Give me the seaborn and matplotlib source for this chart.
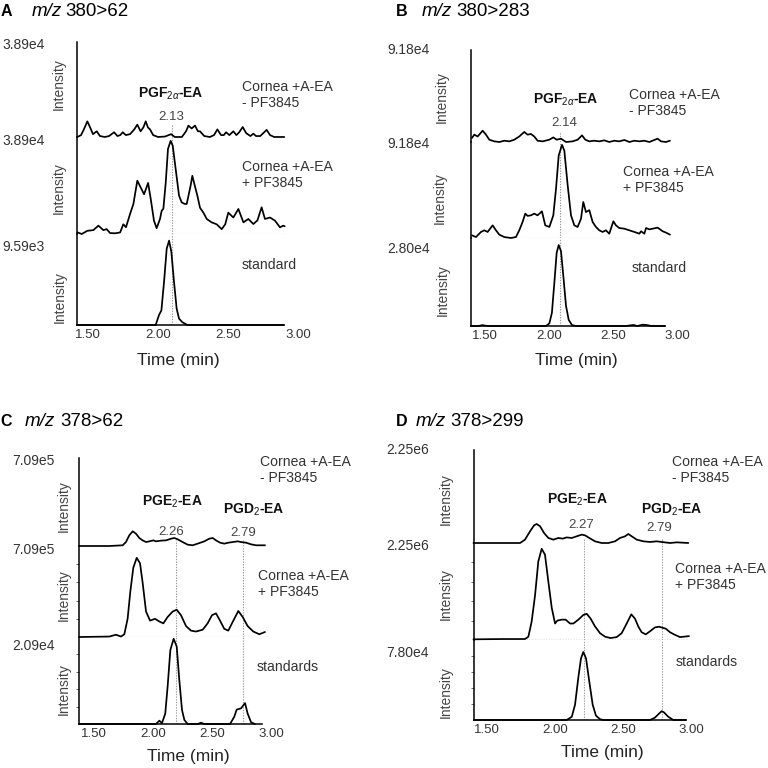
import pandas as pd
import matplotlib.pyplot as plt
import seaborn as sns

# retention time (min) and intensity (% of the trace's full scale)
# panel A  m/z 380>62
a1_time = [1.424,1.45,1.47,1.495,1.515,1.535,1.562,1.585,1.62,1.65,1.686,1.71,1.73,1.748,1.77,1.80,1.83,1.852,1.875,1.895,
           1.912,1.928,1.943,1.965,2.00,2.05,2.093,2.12,2.17,2.20,2.217,2.24,2.264,2.285,2.30,2.33,2.37,2.40,2.424,2.45,
           2.47,2.486,2.51,2.538,2.56,2.58,2.605,2.63,2.66,2.681,2.70,2.73,2.776,2.80,2.83,2.902]
a1_int = [0,2,8,16.5,10,3,6,1,0,1,5,1,2,5,2,3,8,13,6,10,
          16.5,10,8,2,0,0.5,3,0,0,6,12,9,12,6,6,1,0,2,8,2,
          2,5,2,6,2,5,10.5,4,1,3.5,1,1,7.5,2,0,0]
a2_time = [1.424,1.455,1.495,1.538,1.574,1.609,1.633,1.657,1.693,1.729,1.752,1.771,1.80,1.824,1.852,1.876,1.90,1.929,1.948,1.971,
           1.99,2.014,2.026,2.038,2.055,2.071,2.09,2.105,2.126,2.15,2.169,2.19,2.205,2.233,2.245,2.257,2.281,2.30,2.324,2.348,
           2.383,2.419,2.455,2.48,2.502,2.538,2.574,2.61,2.645,2.681,2.71,2.74,2.764,2.80,2.836,2.871,2.895,2.905]
a2_int = [1.7,0,3.3,4,8.6,4,5,1,0.7,1.6,10,7,20.6,31,55,48,41,52.6,36,13.7,
          6,15.5,24,26,53,87.6,96,91,67,39.5,32.6,31,31,50,60,53,39.5,27,22,15.5,
          12,10,5,10,22,17,25.8,12,15.5,10.3,14,27.5,15.5,17,13.7,6.9,8.6,8]
a3_time = [1.421,1.90,1.983,2.007,2.024,2.043,2.062,2.079,2.095,2.114,2.133,2.15,2.174,2.21,2.90]
a3_int = [0,0,0,11,16,47.6,84,92.7,80.6,47.6,18,7,3,0,0]

# panel B  m/z 380>283
b1_time = [1.398,1.417,1.443,1.482,1.508,1.534,1.573,1.612,1.651,1.69,1.729,1.768,1.807,1.833,1.859,1.885,1.911,1.951,2.003,2.034,
           2.06,2.094,2.133,2.185,2.224,2.258,2.284,2.315,2.354,2.393,2.432,2.471,2.51,2.549,2.589,2.628,2.667,2.706,2.745,2.784,
           2.823,2.849,2.875,2.914,2.945]
b1_int = [4.3,8,6,12.3,8,2.5,0.7,0,1.4,0.7,2.5,6,10.9,8,8.7,6,1.4,0.7,2.5,5,
          2.5,3.6,0,0.7,2.5,7.2,2.5,0.7,1.4,0.7,1.8,0,1.4,0.7,2.2,0,1.4,0.7,1.4,0,
          2.2,3.6,0.7,0,1.4]
b2_time = [1.398,1.43,1.469,1.495,1.521,1.56,1.586,1.612,1.651,1.703,1.742,1.768,1.794,1.815,1.833,1.859,1.885,1.911,1.945,1.971,
           2.003,2.034,2.055,2.076,2.102,2.12,2.146,2.172,2.198,2.224,2.25,2.268,2.289,2.315,2.341,2.367,2.393,2.419,2.445,2.471,
           2.503,2.523,2.549,2.589,2.628,2.667,2.706,2.719,2.745,2.758,2.784,2.81,2.849,2.888,2.914,2.945]
b2_int = [2.8,1,6.3,8,6.3,13.2,8,3.5,1,0,1,8,16.7,25.4,23,23.6,25.4,23.6,27.8,13.2,
          11.5,23.6,51.4,86,97,91,55,23.6,13.2,11.5,20,37.5,27,29,16.7,11.5,8,6.3,8,4.5,
          17.4,13.2,10.4,9.7,8,6.3,4.5,7,4.5,10.4,9,9.7,10.8,7,5.6,3.5]
b3_time = [1.39,1.45,1.48,1.52,1.70,1.977,2.003,2.023,2.042,2.06,2.076,2.094,2.112,2.133,2.154,2.18,2.211,2.60,2.66,2.69,
           2.73,2.76,2.80,2.906]
b3_int = [0,0,1,0,0,0,3,15,49,83,92,85,57,23,7,1,0,0,1.2,0,1.5,1.2,0,0]

# panel C  m/z 378>62
c1_time = [1.376,1.489,1.63,1.743,1.771,1.799,1.828,1.856,1.884,1.912,1.941,1.969,2.003,2.025,2.068,2.11,2.153,2.181,2.209,2.251,
           2.294,2.336,2.379,2.435,2.477,2.506,2.534,2.568,2.604,2.641,2.675,2.718,2.746,2.788,2.831,2.873,2.949]
c1_int = [0,0,0,0.8,4.5,12.1,16.7,14,9.1,6.4,4.5,5.3,6.4,5.3,6.1,6.4,8.3,9.1,7.6,4.5,
          1.5,0.8,2.7,5.3,8.3,9.1,6.4,3.8,2.7,3.8,4.5,5.3,4.5,3.8,1.9,0.8,0.8]
c2_time = [1.376,1.63,1.686,1.729,1.757,1.785,1.808,1.833,1.862,1.89,1.912,1.941,1.975,2.017,2.054,2.088,2.124,2.167,2.201,2.237,
           2.28,2.322,2.364,2.421,2.463,2.50,2.534,2.568,2.604,2.638,2.681,2.723,2.76,2.802,2.85,2.901,2.949]
c2_int = [0,0.5,2.5,0.5,3,20,50,76,87,81,60,28,18,20,17,15,22,28,30,24,
          12,7,6,8,15,24,26,18,9,7,18,28.6,22,12,6,3,5.5]
c3_time = [1.373,2.025,2.054,2.076,2.104,2.124,2.147,2.175,2.201,2.223,2.246,2.266,2.294,2.38,2.407,2.435,2.653,2.689,2.709,2.746,
           2.78,2.802,2.831,2.864]
c3_int = [0,0,3.8,1,12,43,85,98,89,50.6,16,4.6,0,0,1.5,0,0,8.4,16.5,18,24,12,2,0]

# panel D  m/z 378>299
d1_time = [1.40,1.62,1.743,1.779,1.816,1.846,1.865,1.89,1.919,1.951,1.988,2.024,2.056,2.086,2.123,2.159,2.196,2.221,2.252,2.294,
           2.343,2.392,2.441,2.478,2.515,2.539,2.564,2.601,2.65,2.699,2.748,2.784,2.846,2.895,2.98]
d1_int = [0,0,0,3.6,12.5,19,20.4,18,10.8,5.4,3.6,5.4,4.7,6,5.4,7.2,9,8.2,5.4,1.8,
          0,0,1.8,5.4,7.2,9.7,7.2,3.6,1.8,1.1,1.8,1.1,0,0.7,0]
d2_time = [1.40,1.62,1.779,1.804,1.828,1.853,1.877,1.902,1.926,1.951,1.976,2.0,2.017,2.05,2.078,2.11,2.135,2.172,2.208,2.233,
           2.262,2.294,2.331,2.368,2.409,2.453,2.49,2.527,2.561,2.588,2.613,2.637,2.667,2.699,2.735,2.765,2.814,2.846,2.875,2.919,
           2.985]
d2_int = [0.7,1,1,3.4,19,46,81,94,88,60,33,17,20,21,21,17,17,21,25.8,27,
          22,14,7,3.4,2,3,7,17,26.5,22,13.7,8,5.8,9,13,13.7,11.7,8,5.8,3,
          4]
d3_time = [1.404,2.086,2.123,2.147,2.172,2.191,2.208,2.228,2.252,2.277,2.301,2.331,2.355,2.699,2.735,2.767,2.784,2.801,2.833,2.87,
           2.963]
d3_int = [0,0,4,19,54,77,85,77,48,19,5.4,1,0,0,3,8.3,11,9.6,4,0,0]

# retention time markers
a_marks = [2.10]
b_marks = [2.088]
c_marks = [2.195, 2.763]
d_marks = [2.213, 2.787]

x_ticks = [1.5, 2.0, 2.5, 3.0]
x_ticklabels = ['1.50', '2.00', '2.50', '3.00']

sns.set_style("white")
plt.rcParams['font.family'] = ['Liberation Sans', 'DejaVu Sans']
plt.rcParams['mathtext.fontset'] = 'custom'
plt.rcParams['mathtext.rm'] = 'Liberation Sans'
plt.rcParams['mathtext.it'] = 'Liberation Sans:italic'
plt.rcParams['mathtext.bf'] = 'Liberation Sans:bold'

W = 768.0
def fx(x):
    return x / W
def fy(y):
    return 1 - y / W

fig = plt.figure(figsize=(7.68, 7.68), dpi=100)
TXT = '#333333'


def draw_panel(left, right, t_left, rows, spine_end, base_end, traces, marks, mark_top, base_style, small_ticks):
    for i, ((top, bot), (t, v)) in enumerate(zip(rows, traces)):
        ax = fig.add_axes([fx(left), fy(bot), (right - left) / W, (bot - top) / W])
        df = pd.DataFrame({'Time': t, 'Intensity': v})
        sns.lineplot(data=df, x='Time', y='Intensity', ax=ax, color='black', lw=1.25, clip_on=False, zorder=3)
        ax.set_xlim(t_left, 3.0)
        ax.set_ylim(0, 100)
        ax.set_xlabel('')
        ax.set_ylabel('')
        ax.patch.set_alpha(0)
        for s in ['top', 'right']:
            ax.spines[s].set_visible(False)
        ax.spines['left'].set_linewidth(1.1)
        ax.spines['left'].set_color('black')
        for m in marks:
            ax.axvline(m, ymin=0, ymax=(mark_top if i == 0 else 1), color='#9a9a9a', ls=(0, (1.2, 1.2)), lw=0.8, zorder=1)
        if i == 1:
            ax.axhline(0, xmin=0, xmax=(base_end - t_left) / (3.0 - t_left), **base_style)
        if small_ticks and i > 0:
            ax.set_yticks([20, 40, 60, 80])
            ax.tick_params(axis='y', left=True, length=2.5, width=0.6, direction='out', labelleft=False, color='#555555')
        else:
            ax.set_yticks([])
        if i == 2:
            ax.spines['bottom'].set_visible(True)
            ax.spines['bottom'].set_linewidth(1.1)
            ax.spines['bottom'].set_color('black')
            ax.spines['bottom'].set_bounds(t_left, spine_end)
            ax.set_xticks(x_ticks)
            ax.set_xticklabels(x_ticklabels)
            ax.tick_params(axis='x', length=0, pad=3, labelsize=9.5, labelcolor=TXT)
        else:
            ax.spines['bottom'].set_visible(False)
            ax.set_xticks([])


gray_base = dict(color='#a0a0a0', ls=(0, (2.5, 1.5)), lw=0.8)
dark_base = dict(color='#444444', ls=(0, (1, 1.2)), lw=0.9)

draw_panel(77, 298, 1.421, [(42, 137), (137, 234), (234, 325)], 2.90, 2.91,
           [(a1_time, a1_int), (a2_time, a2_int), (a3_time, a3_int)], a_marks, 0.13, gray_base, False)
draw_panel(471, 677, 1.391, [(50, 142), (142, 238), (238, 326)], 2.906, 2.953,
           [(b1_time, b1_int), (b2_time, b2_int), (b3_time, b3_int)], b_marks, 0.11, gray_base, False)
draw_panel(79, 271, 1.373, [(458, 546), (546, 637), (637, 724)], 2.924, 2.966,
           [(c1_time, c1_int), (c2_time, c2_int), (c3_time, c3_int)], c_marks, 0.07, gray_base, True)
draw_panel(474, 691, 1.404, [(450, 543), (543, 640), (640, 720)], 2.963, 2.985,
           [(d1_time, d1_int), (d2_time, d2_int), (d3_time, d3_int)], d_marks, 0.05, dark_base, True)


def txt(x, y, s, **kw):
    kw.setdefault('color', TXT)
    kw.setdefault('va', 'center')
    fig.text(fx(x), fy(y), s, **kw)


# panel titles
for letter, lx, mx, nx, y, mz in [('A', 1, 32, 65, 11, '380>62'), ('B', 396, 422, 456, 11, '380>283'),
                                  ('C', 0, 25, 60, 422, '378>62'), ('D', 396, 416, 450, 421, '378>299')]:
    txt(lx, y, letter, fontsize=11.5, fontweight='bold', color='black')
    txt(mx, y, 'm/z', fontsize=13.5, fontstyle='italic', color='black')
    txt(nx, y, mz, fontsize=13.5, color='black')

# full-scale intensities
for x, y, s in [(2, 45, '3.89e4'), (2, 141, '3.89e4'), (2, 247, '9.59e3'),
                (387, 50, '9.18e4'), (387, 144, '9.18e4'), (387, 249, '2.80e4'),
                (12, 461, '7.09e5'), (12, 550, '7.09e5'), (12, 646, '2.09e4'),
                (386, 450, '2.25e6'), (386, 546, '2.25e6'), (386, 653, '7.80e4')]:
    txt(x, y, s, fontsize=10)

# y labels
for x, y in [(59, 84), (59, 188), (60, 297), (442, 97), (440, 198), (443, 290),
             (64, 506), (64, 595), (64, 689), (446, 499), (446, 594), (446, 692)]:
    txt(x, y, 'Intensity', fontsize=10, rotation=90, ha='center', color='#444444')

# x labels
for x, y in [(178, 360), (576, 360), (188, 757), (602, 753)]:
    txt(x, y, 'Time (min)', fontsize=12.5, ha='center', color='#222222')

# sample labels
for x, y, s in [(242, 95, 'Cornea +A-EA\n- PF3845'), (242, 175, 'Cornea +A-EA\n+ PF3845'), (242, 265, 'standard'),
                (629, 103, 'Cornea +A-EA\n- PF3845'), (623, 180, 'Cornea +A-EA\n+ PF3845'), (632, 268, 'standard'),
                (260, 470, 'Cornea +A-EA\n- PF3845'), (258, 584, 'Cornea +A-EA\n+ PF3845'), (257, 667, 'standards'),
                (672, 470, 'Cornea +A-EA\n- PF3845'), (675, 577, 'Cornea +A-EA\n+ PF3845'), (676, 662, 'standards')]:
    txt(x, y, s, fontsize=10.1, linespacing=1.15)

# compound names and retention times
for x, y, s in [(171, 94, r'PGF$_{2\alpha}$-EA'), (566, 100, r'PGF$_{2\alpha}$-EA'),
                (172, 502, r'PGE$_{2}$-EA'), (254, 510, r'PGD$_{2}$-EA'),
                (577, 500, r'PGE$_{2}$-EA'), (672, 510, r'PGD$_{2}$-EA')]:
    txt(x, y, s, fontsize=10, fontweight='bold', ha='center', color='#111111')
for x, y, s in [(171, 117, '2.13'), (564, 123, '2.14'), (171, 532, '2.26'), (243, 533, '2.79'),
                (581, 525, '2.27'), (659, 528, '2.79')]:
    txt(x, y, s, fontsize=9.5, ha='center', color='#444444')

plt.savefig('out.png', dpi=100)
